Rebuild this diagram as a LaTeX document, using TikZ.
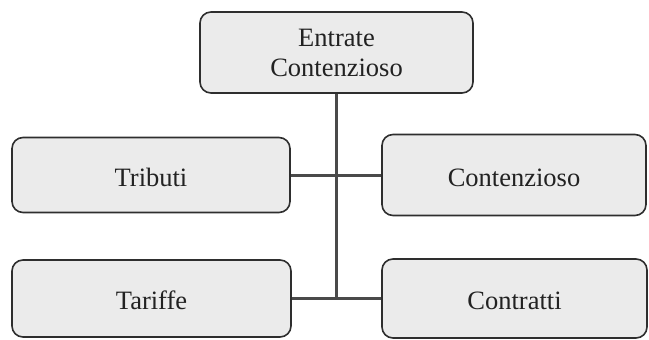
\documentclass[tikz,border=0pt]{standalone}
\usepackage{fontspec}
\setmainfont{Liberation Serif}
\begin{document}
\begin{tikzpicture}[x=1pt,y=-1pt,
  box/.style={draw=boxline, fill=boxfill, line width=1.6pt, rounded corners=11pt,
    inner sep=0pt, text=txt, font=\fontsize{26.5}{30}\selectfont, align=center},
  onebox/.style={box, text height=22pt, text depth=0pt},
  conn/.style={draw=linecol, line width=3pt}]
\definecolor{boxline}{HTML}{2E2E2E}
\definecolor{boxfill}{HTML}{EBEBEB}
\definecolor{linecol}{HTML}{4A4A4A}
\definecolor{txt}{HTML}{222222}
\useasboundingbox (0,0) rectangle (649,340);
\node[box, minimum width=273pt, minimum height=81pt] (top) at (336.5,52.5) {Entrate\\Contenzioso};
\node[onebox, minimum width=278pt, minimum height=75pt] (tributi) at (151,175) {Tributi};
\node[onebox, minimum width=264pt, minimum height=81pt] (contenz) at (514,175) {Contenzioso};
\node[onebox, minimum width=279pt, minimum height=77pt] (tariffe) at (151.5,298.5) {Tariffe};
\node[onebox, minimum width=265pt, minimum height=79pt] (contratti) at (514.5,298.5) {Contratti};
\coordinate (j) at (top.south |- tariffe.east);
\draw[conn] (top.south) -- (j);
\draw[conn] (tributi.east) -- (contenz.west);
\draw[conn] (tariffe.east) -- (contratti.west);
\end{tikzpicture}
\end{document}
